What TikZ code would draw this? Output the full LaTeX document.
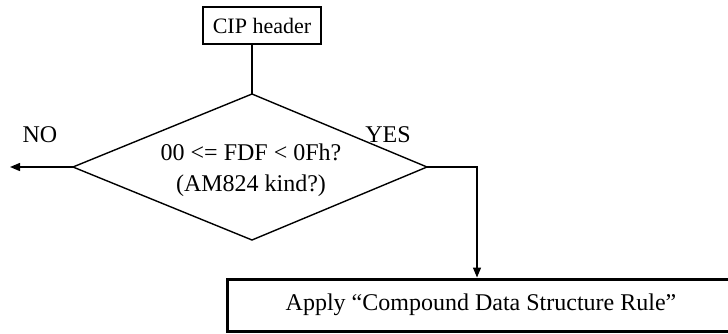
\documentclass[tikz,border=0pt]{standalone}
\usepackage{fontspec}
\setmainfont{Liberation Serif}
\usetikzlibrary{arrows.meta}
\begin{document}
\begin{tikzpicture}[x=1pt,y=-1pt,
  line width=1.4pt,
  txt/.style={inner sep=0pt,font=\fontsize{24}{31}\selectfont},
  headbox/.style={draw,inner sep=0pt,minimum width=118pt,minimum height=37pt,font=\fontsize{22}{26}\selectfont},
  rulebox/.style={draw,line width=3pt,inner sep=0pt,minimum width=508pt,minimum height=52pt,font=\fontsize{24}{30}\selectfont},
  arr/.style={-{Triangle[length=10pt,width=8pt]}}]
\useasboundingbox (0,0) rectangle (728,333);
% header box
\node[headbox] (cip) at (262,25.5) {CIP header};
% decision diamond
\coordinate (dt) at (252,94);
\coordinate (dl) at (73,167);
\coordinate (dr) at (427,167);
\coordinate (db) at (252,240);
\draw (dt) -- (dr) -- (db) -- (dl) -- cycle;
\node[txt,align=center] (cond) at (251,170) {00 <= FDF < 0Fh?\\(AM824 kind?)};
\draw (cip.south -| dt) -- (dt);
% branch labels
\node[txt,anchor=base] (no) at (40,142) {NO};
\node[txt,anchor=base] (yes) at (388,142) {YES};
% outgoing connectors
\coordinate (noend) at (10,167);
\draw[arr] (dl) -- (noend);
\node[rulebox] (rule) at (481,305) {Apply “Compound Data Structure Rule”};
\coordinate (bend) at (477,167);
\draw[arr] (dr) -- (bend) -- (bend |- rule.north);
\end{tikzpicture}
\end{document}
